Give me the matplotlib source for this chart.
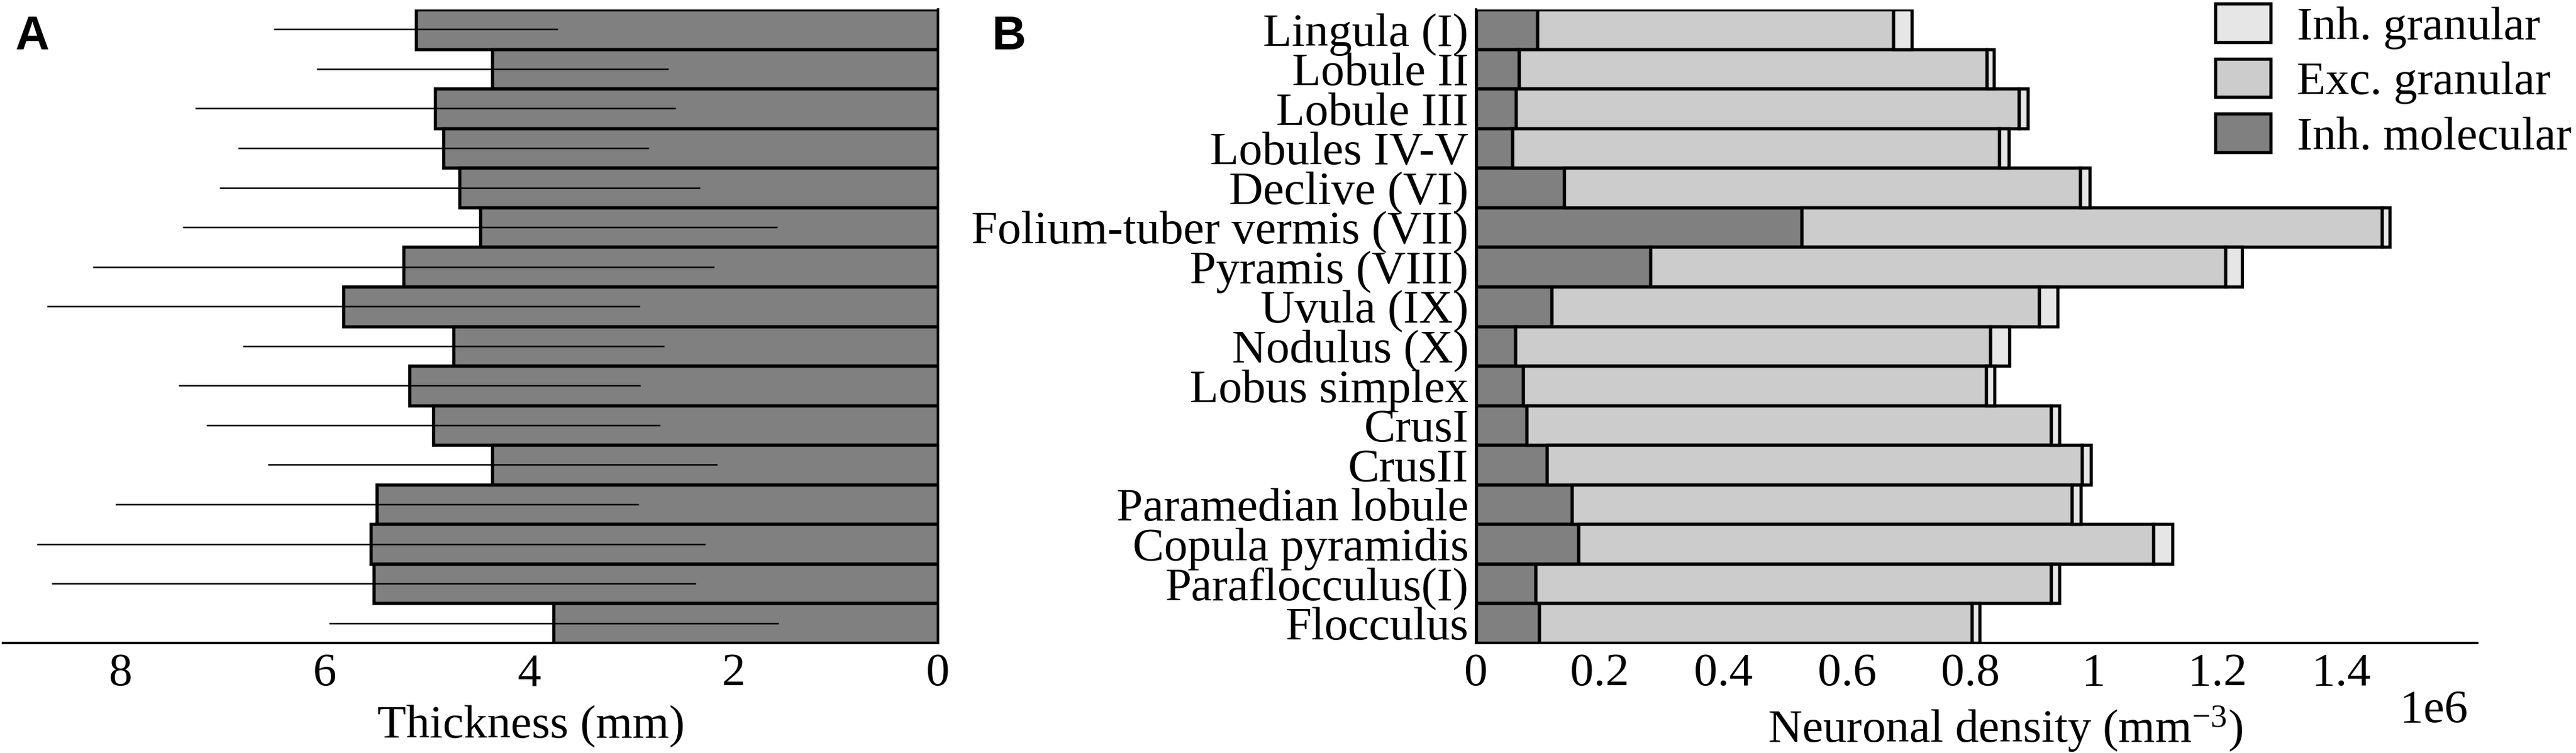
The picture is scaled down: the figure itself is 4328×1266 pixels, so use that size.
import numpy as np
import matplotlib
matplotlib.use('Agg')
import matplotlib.pyplot as plt
from matplotlib.patches import Patch
from matplotlib.ticker import FuncFormatter

plt.rcParams['font.family'] = ['Liberation Serif', 'DejaVu Serif']
plt.rcParams['mathtext.fontset'] = 'custom'
plt.rcParams['mathtext.rm'] = 'Liberation Serif'
plt.rcParams['mathtext.default'] = 'regular'

regions = ['Lingula (I)', 'Lobule II', 'Lobule III', 'Lobules IV-V', 'Declive (VI)',
           'Folium-tuber vermis (VII)', 'Pyramis (VIII)', 'Uvula (IX)', 'Nodulus (X)',
           'Lobus simplex', 'CrusI', 'CrusII', 'Paramedian lobule', 'Copula pyramidis',
           'Paraflocculus(I)', 'Flocculus']

# panel A: thickness (mm), mean and error
thickness = [5.11, 4.36, 4.92, 4.84, 4.68, 4.48, 5.23, 5.82,
             4.74, 5.17, 4.94, 4.36, 5.49, 5.55, 5.52, 3.76]
thickness_err = [1.39, 1.72, 2.35, 2.01, 2.35, 2.91, 3.04, 2.90,
                 2.06, 2.26, 2.22, 2.20, 2.56, 3.27, 3.15, 2.20]

# panel B: neuronal density (x1e6 per mm^3)
inh_molecular = [0.099, 0.069, 0.065, 0.059, 0.143, 0.527, 0.282, 0.122,
                 0.064, 0.076, 0.082, 0.115, 0.155, 0.166, 0.096, 0.102]
exc_granular = [0.576, 0.757, 0.813, 0.788, 0.835, 0.939, 0.931, 0.789,
                0.768, 0.749, 0.848, 0.865, 0.809, 0.930, 0.834, 0.700]
inh_granular = [0.030, 0.012, 0.015, 0.015, 0.015, 0.012, 0.027, 0.030,
                0.031, 0.014, 0.014, 0.015, 0.015, 0.031, 0.014, 0.013]

inh_molecular = np.array(inh_molecular) * 1e6
exc_granular = np.array(exc_granular) * 1e6
inh_granular = np.array(inh_granular) * 1e6

c_mol = '#808080'
c_exc = '#cccccc'
c_inh = '#e6e6e6'
FS = 19
W, H = 4328, 1266

fig = plt.figure(figsize=(W / 300, H / 300), dpi=300)
axA = fig.add_axes([5 / W, 1 - 1081 / H, (1576 - 5) / W, (1081 - 16) / H])
axB = fig.add_axes([2480 / W, 1 - 1081 / H, (4162 - 2480) / W, (1081 - 16) / H])

y = np.arange(len(regions))

# --- A
axA.barh(y, thickness, height=1.0, color=c_mol, edgecolor='black', linewidth=1.3)
axA.errorbar(thickness, y, xerr=thickness_err, fmt='none', ecolor='black',
             elinewidth=0.6, capsize=0)
axA.set_xlim(9.15, 0)
axA.set_ylim(len(regions) - 0.5, -0.5)
axA.set_yticks([])
axA.set_xticks([8, 6, 4, 2, 0])
axA.tick_params(axis='x', length=0, pad=4, labelsize=FS)
for s in ['top', 'left']:
    axA.spines[s].set_visible(False)
axA.spines['bottom'].set_linewidth(1.0)
axA.spines['right'].set_linewidth(1.0)
axA.set_xlabel('Thickness (mm)', fontsize=FS, va='top')
axA.xaxis.set_label_coords(0.565, -0.097)

# --- B
left2 = inh_molecular + exc_granular
axB.barh(y, inh_molecular, height=1.0, color=c_mol, edgecolor='black', linewidth=1.3)
axB.barh(y, exc_granular, left=inh_molecular, height=1.0, color=c_exc,
         edgecolor='black', linewidth=1.3)
axB.barh(y, inh_granular, left=left2, height=1.0, color=c_inh,
         edgecolor='black', linewidth=1.3)
axB.set_xlim(0, 1.62e6)
axB.set_ylim(len(regions) - 0.5, -0.5)
axB.set_xticks(np.arange(0, 1.41e6, 0.2e6))
axB.xaxis.set_major_formatter(FuncFormatter(lambda v, p: f'{v / 1e6:g}'))
axB.set_yticks(y)
axB.set_yticklabels(regions)
axB.tick_params(axis='both', length=0, labelsize=FS)
axB.tick_params(axis='x', pad=4)
axB.tick_params(axis='y', pad=3)
for s in ['top', 'right']:
    axB.spines[s].set_visible(False)
axB.spines['bottom'].set_linewidth(1.0)
axB.spines['left'].set_linewidth(1.0)
axB.set_xlabel('Neuronal density (mm$^{-3}$)', fontsize=FS, va='top')
axB.xaxis.set_label_coords((3369 - 2480) / (4162 - 2480), -0.097)
fig.text(4146 / W, 1 - 1195 / H, '1e6', ha='right', va='center', fontsize=FS)

handles = [Patch(facecolor=c_inh, edgecolor='black', linewidth=1.3),
           Patch(facecolor=c_exc, edgecolor='black', linewidth=1.3),
           Patch(facecolor=c_mol, edgecolor='black', linewidth=1.3)]
fig.legend(handles, ['Inh. granular', 'Exc. granular', 'Inh. molecular'],
           loc='upper left', bbox_to_anchor=(3722 / W, 1 - 6 / H),
           frameon=False, fontsize=FS, borderpad=0, borderaxespad=0,
           handlelength=1.18, handleheight=0.88, handletextpad=0.55,
           labelspacing=0.2)

# panel letters
fig.text(25 / W, 1 - 25 / H, 'A', fontsize=19, fontweight='bold', va='top',
         family=['Liberation Sans Narrow', 'Liberation Sans', 'DejaVu Sans'])
fig.text(1667 / W, 1 - 25 / H, 'B', fontsize=19, fontweight='bold', va='top',
         family=['Liberation Sans Narrow', 'Liberation Sans', 'DejaVu Sans'])

fig.savefig('out.png', dpi=300, facecolor='white')
plt.close()
